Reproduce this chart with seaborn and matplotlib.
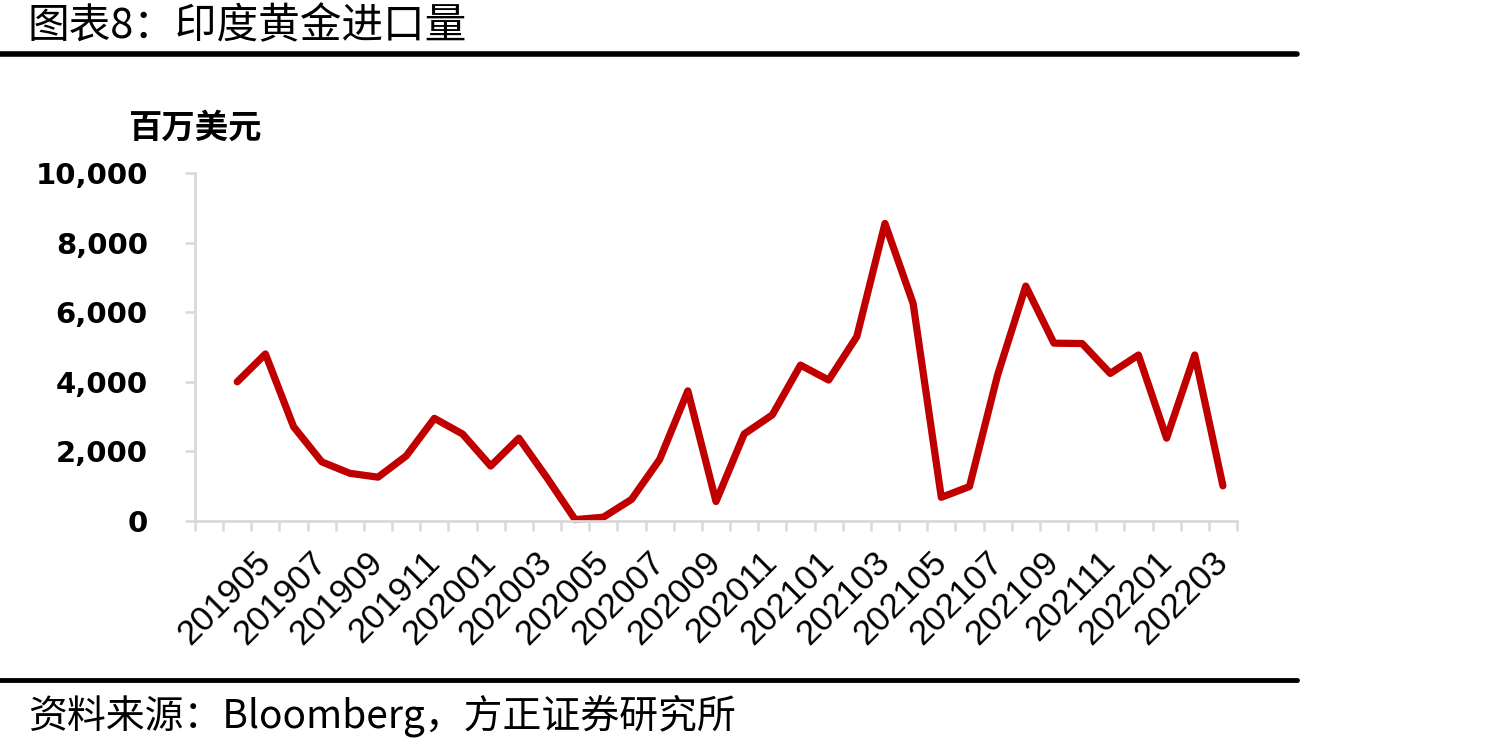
import matplotlib
matplotlib.use('Agg')  # Use non-interactive backend
import matplotlib.pyplot as plt
import seaborn as sns
import numpy as np
import pandas as pd

# India gold imports, monthly, USD mn
months = ['201904', '201905', '201906', '201907', '201908', '201909', '201910', '201911', '201912',
          '202001', '202002', '202003', '202004', '202005', '202006', '202007', '202008', '202009',
          '202010', '202011', '202012', '202101', '202102', '202103', '202104', '202105', '202106',
          '202107', '202108', '202109', '202110', '202111', '202112', '202201', '202202', '202203']
imports = [4000, 4800, 2710, 1700, 1370, 1260, 1870, 2950, 2500,
           1580, 2380, 1240, 40, 110, 620, 1770, 3740, 560,
           2500, 3050, 4480, 4050, 5300, 8550, 6250, 680, 990,
           4200, 6750, 5110, 5100, 4240, 4770, 2380, 4770, 1010]
y_ticks = [0, 2000, 4000, 6000, 8000, 10000]

title = '图表8：印度黄金进口量'
unit = '百万美元'
source = '资料来源：Bloomberg，方正证券研究所'

sns.set_style('white')
plt.rcParams['font.family'] = ['Noto Sans CJK SC', 'DejaVu Sans']
plt.rcParams['text.color'] = 'black'

df = pd.DataFrame({'month': months, 'value': imports})
# the source axis has one empty category slot before the first month
df['pos'] = np.arange(len(months)) + 1.5
n_slots = len(months) + 1

fig = plt.figure(figsize=(14.9, 7.51), dpi=100)
ax = fig.add_axes([195 / 1490, 1 - 521 / 751, (1237 - 195) / 1490, (521 - 173) / 751])

sns.lineplot(data=df, x='pos', y='value', color='#C00000', linewidth=5.2, ax=ax)
line = ax.lines[0]
line.set_solid_joinstyle('round')
line.set_solid_capstyle('round')
line.set_clip_on(False)

ax.set_xlim(0, n_slots)
ax.set_ylim(0, 10000)
ax.set_xlabel('')
ax.set_ylabel('')

grey = '#d9d9d9'
for side in ['top', 'right']:
    ax.spines[side].set_visible(False)
for side in ['left', 'bottom']:
    ax.spines[side].set_color(grey)
    ax.spines[side].set_linewidth(2)

# y axis
ax.set_yticks(y_ticks)
ax.set_yticklabels([f'{v:,}' for v in y_ticks], fontsize=21, fontweight='bold',
                   family='DejaVu Sans', color='black')
ax.tick_params(axis='y', left=True, direction='out', length=7, width=1.8, color=grey, pad=27)

# x axis: tick marks on slot borders, labels on every second month
ax.set_xticks(np.arange(n_slots + 1))
ax.set_xticklabels([])
ax.tick_params(axis='x', which='major', bottom=True, direction='out', length=7, width=1.8, color=grey)
lab_pos = df['pos'].values[1::2]
ax.set_xticks(lab_pos, minor=True)
ax.set_xticklabels(df['month'].values[1::2], minor=True, rotation=45, ha='right', va='center',
                   rotation_mode='anchor', fontsize=25, family='Liberation Sans', color='black')
ax.tick_params(axis='x', which='minor', bottom=True, length=0, pad=26)

# title, unit, source and rules
fig.text(28 / 1490, 1 - 27 / 751, title, fontsize=30, va='center', ha='left')
fig.text(128 / 1490, 1 - 128 / 751, unit, fontsize=24, fontweight='bold', va='center', ha='left')
fig.text(28 / 1490, 1 - 716 / 751, source, fontsize=28, va='center', ha='left')
fig.add_artist(plt.Line2D([0, 1297 / 1490], [1 - 54 / 751, 1 - 54 / 751], color='black', linewidth=4))
fig.add_artist(plt.Line2D([0, 1297 / 1490], [1 - 680 / 751, 1 - 680 / 751], color='black', linewidth=3.5))

plt.savefig('out.png', dpi=100)
